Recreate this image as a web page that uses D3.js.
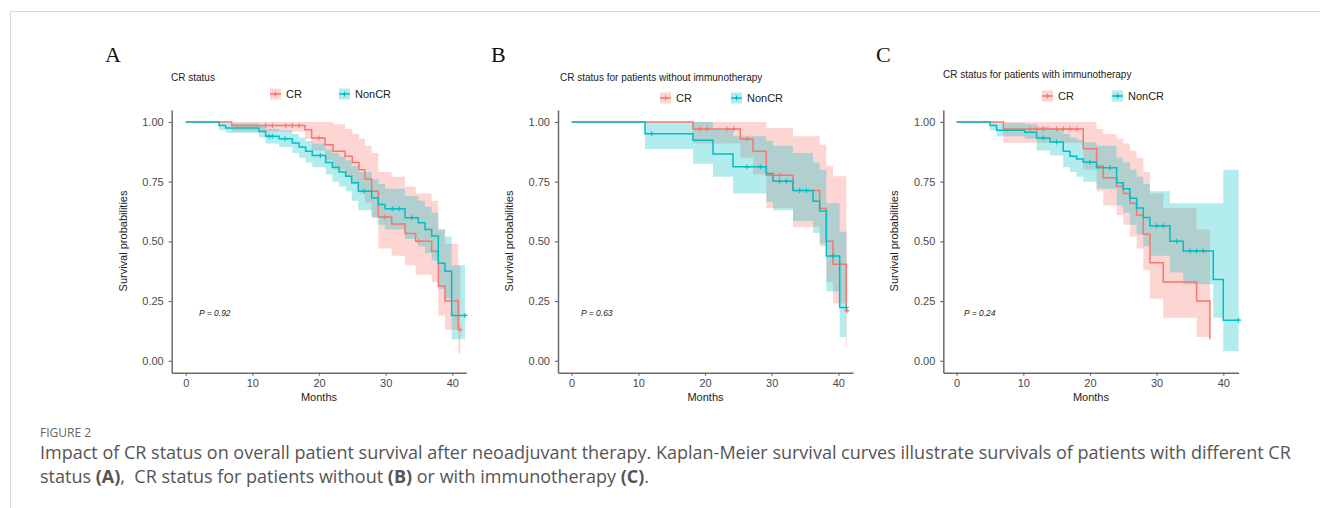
<!DOCTYPE html>
<html>
<head>
<meta charset="utf-8">
<script src="https://cdn.jsdelivr.net/npm/d3@7"></script>
<style>
  body { margin: 0; background: #fff; }
  text { font-family: Arial, "Liberation Sans", sans-serif; }
</style>
</head>
<body>
<script>
// ---- data (months, survival probability) ----

// A: CR status
var aCrTime = [0, 6.9, 17.9, 18.9, 20.9, 22.1, 23.9, 25, 26, 26.9, 27.9, 28.9, 30.9, 32.9, 34.5, 36.9, 37.9, 38.9, 40.9];
var aCrSurv = [1, .985, .967, .933, .905, .877, .856, .83, .80, .761, .71, .602, .573, .533, .50, .459, .313, .25, .13];
var aCrLow  = [1, .96, .93, .88, .84, .80, .77, .74, .70, .66, .60, .47, .44, .40, .36, .33, .19, .13, .03];
var aCrUp   = [1, 1, 1, 1, 1, .99, .97, .95, .93, .90, .87, .79, .77, .73, .70, .67, .55, .49, .40];
var aCrCens = [12, 13, 15, 16, 17, 20, 29.9, 34.9, 41.2];

var aNcTime = [0, 5, 6, 11, 12, 14, 16, 17, 18, 19, 21, 22, 23, 24, 24.9, 25.9, 27.9, 28.9, 29.9, 32.9, 34.9, 35.9, 36.9, 37.9, 38.9, 39.9];
var aNcSurv = [1, .985, .975, .96, .94, .93, .912, .895, .877, .86, .83, .81, .79, .773, .745, .71, .682, .654, .636, .599, .578, .55, .522, .408, .375, .19];
var aNcLow  = [1, .965, .955, .935, .91, .895, .87, .85, .83, .81, .78, .75, .73, .71, .67, .63, .60, .57, .55, .51, .48, .45, .42, .30, .26, .09];
var aNcUp   = [1, 1, .995, .985, .97, .965, .95, .935, .92, .91, .885, .87, .855, .84, .815, .79, .76, .74, .72, .69, .67, .645, .62, .55, .52, .40];
var aNcCens = [12.5, 13, 14.9, 20.2, 26.8, 31, 32, 33.9, 41.9];

// B: without immunotherapy
var bCrTime = [0, 18.2, 25.3, 27.2, 29.2, 33.2, 37.2, 38.2, 39.2, 41.2];
var bCrSurv = [1, .970, .929, .877, .777, .713, .638, .50, .404, .209];
var bCrLow  = [1, .91, .85, .78, .64, .56, .48, .33, .24, .06];
var bCrUp   = [1, 1, 1, 1, .975, .94, .905, .815, .773, .55];
var bCrCens = [19.3, 20.3, 23.3, 24.3, 26.3, 30.2, 31.2, 41.3];

var bNcTime = [0, 11, 18.2, 21.2, 24.2, 29.2, 30.2, 33.2, 36.2, 37.2, 38.2, 40.2];
var bNcSurv = [1, .951, .923, .866, .812, .784, .752, .713, .668, .627, .439, .223];
var bNcLow  = [1, .887, .825, .77, .70, .665, .63, .585, .535, .49, .29, .10];
var bNcUp   = [1, 1, 1, .97, .94, .92, .90, .87, .83, .80, .66, .54];
var bNcCens = [12, 26.3, 28.3, 31.2, 32.2, 34.2, 35.2, 39.2, 41.2];

// C: with immunotherapy
var cCrTime = [0, 7, 19, 21, 22, 24, 25, 26, 27, 28, 29, 31, 36, 38];
var cCrSurv = [1, .97, .888, .815, .766, .731, .70, .66, .61, .53, .41, .33, .25, .09];
var cCrLow  = [1, .913, .80, .71, .65, .61, .57, .52, .47, .38, .26, .18, .10, .01];
var cCrUp   = [1, 1, 1, .97, .95, .93, .91, .88, .85, .79, .70, .64, .55, .45];
var cCrCens = [11, 12, 13, 15, 16, 17, 18];

var cNcTime = [0, 5, 6, 10.2, 12, 14, 16, 17, 18, 19, 21, 24, 25, 26, 27, 28, 29, 32, 34, 38.5, 40];
var cNcSurv = [1, .985, .965, .957, .933, .916, .877, .856, .845, .831, .808, .745, .72, .68, .64, .60, .565, .50, .46, .34, .17];
var cNcLow  = [1, .965, .94, .93, .88, .86, .81, .79, .77, .75, .72, .65, .62, .57, .53, .48, .44, .37, .32, .18, .04];
var cNcUp   = [1, 1, .995, .99, .98, .97, .95, .935, .925, .915, .90, .85, .83, .80, .77, .74, .71, .66, .66, .66, .80];
var cNcCens = [13, 15, 20, 23, 30, 31, 33, 35, 36, 37, 42.3];

var groups   = ['CR', 'NonCR'];
var colors   = ['#F8766D', '#00BFC4'];
var yTicks   = [0, 0.25, 0.5, 0.75, 1];
var xTicks   = [0, 10, 20, 30, 40];

var panels = [
  { letter: 'A', title: 'CR status', pval: 'P = 0.92',
    x0: 171.7, x1: 466.3, dom: [-2.1, 42.1], lx: 105, tx: 171, ty: 81, legY: 94, legX: [270, 339], px: 2,
    series: [[aCrTime, aCrSurv, aCrLow, aCrUp, aCrCens], [aNcTime, aNcSurv, aNcLow, aNcUp, aNcCens]] },
  { letter: 'B', title: 'CR status for patients without immunotherapy', pval: 'P = 0.63',
    x0: 558, x1: 853, dom: [-2.05, 42.2], lx: 491, tx: 560, ty: 81, legY: 98, legX: [660, 731], px: 1.4,
    series: [[bCrTime, bCrSurv, bCrLow, bCrUp, bCrCens], [bNcTime, bNcSurv, bNcLow, bNcUp, bNcCens]] },
  { letter: 'C', title: 'CR status for patients with immunotherapy', pval: 'P = 0.24',
    x0: 943.3, x1: 1238.6, dom: [-2.0, 42.3], lx: 876, tx: 943, ty: 78, legY: 96, legX: [1042, 1112], px: 1.1,
    series: [[cCrTime, cCrSurv, cCrLow, cCrUp, cCrCens], [cNcTime, cNcSurv, cNcLow, cNcUp, cNcCens]] }
];

var svg = d3.select('body').append('svg')
  .attr('width', 1320).attr('height', 508);

// frame of the figure box
svg.append('path').attr('d', 'M10.5,508V11.5H1320')
  .attr('fill', 'none').attr('stroke', '#d6d6d6').attr('stroke-width', 1);

var y = d3.scaleLinear().domain([-0.05, 1.05]).range([372.7, 110]);
var plus = 'M-2.5,0H2.5M0,-2.5V2.5';

function stepAt(times, vals, t) {
  var i = d3.bisectRight(times, t) - 1;
  return vals[Math.max(i, 0)];
}

panels.forEach(function(p) {
  var g = svg.append('g');
  var x = d3.scaleLinear().domain(p.dom).range([p.x0, p.x1]);

  g.append('text').attr('x', p.lx).attr('y', 62)
    .style('font-family', '"Liberation Serif", "Times New Roman", serif')
    .style('font-size', '22px').attr('fill', '#111').text(p.letter);
  g.append('text').attr('x', p.tx).attr('y', p.ty)
    .style('font-size', '10px').attr('fill', '#222').text(p.title);

  var rows = p.series.map(function(s) {
    var r = s[0].map(function(t, i) { return { t: t, s: s[1][i], lo: s[2][i], hi: s[3][i] }; });
    var end = Math.max(d3.max(s[0]), d3.max(s[4]));
    var last = r[r.length - 1];
    if (end > last.t) r.push({ t: end, s: last.s, lo: last.lo, hi: last.hi });
    return r;
  });

  var area = d3.area().curve(d3.curveStepAfter)
    .x(function(d) { return x(d.t); })
    .y0(function(d) { return y(d.lo); })
    .y1(function(d) { return y(d.hi); });
  var line = d3.line().curve(d3.curveStepAfter)
    .x(function(d) { return x(d.t); })
    .y(function(d) { return y(d.s); });

  rows.forEach(function(r, k) {
    g.append('path').attr('d', area(r)).attr('fill', colors[k]).attr('fill-opacity', 0.3);
  });
  rows.forEach(function(r, k) {
    g.append('path').attr('d', line(r)).attr('fill', 'none')
      .attr('stroke', colors[k]).attr('stroke-width', 1.5);
  });
  p.series.forEach(function(s, k) {
    g.selectAll(null).data(s[4]).enter().append('path')
      .attr('d', plus).attr('fill', 'none').attr('stroke', colors[k]).attr('stroke-width', 1.1)
      .attr('transform', function(c) { return 'translate(' + x(c) + ',' + y(stepAt(s[0], s[1], c)) + ')'; });
  });

  // axes
  var ya = g.append('g').attr('transform', 'translate(' + p.x0 + ',0)')
    .call(d3.axisLeft(y).tickValues(yTicks).tickFormat(d3.format('.2f')).tickSize(3).tickSizeOuter(0).tickPadding(5));
  var xa = g.append('g').attr('transform', 'translate(0,372.7)')
    .call(d3.axisBottom(x).tickValues(xTicks).tickSize(3).tickSizeOuter(0).tickPadding(3.5));
  [ya, xa].forEach(function(a) {
    a.select('.domain').attr('stroke', '#6b6b6b').attr('stroke-width', 1.5);
    a.selectAll('.tick line').attr('stroke', '#6b6b6b').attr('stroke-width', 1.2);
    a.selectAll('.tick text').style('font-size', '11px').attr('fill', '#4a4a4a')
      .style('font-family', 'Arial, "Liberation Sans", sans-serif');
  });

  g.append('text').attr('transform', 'translate(' + (p.x0 - 45) + ',241) rotate(-90)')
    .attr('text-anchor', 'middle').style('font-size', '11px').attr('fill', '#222')
    .text('Survival probabilities');
  g.append('text').attr('x', (p.x0 + p.x1) / 2).attr('y', 401)
    .attr('text-anchor', 'middle').style('font-size', '11px').attr('fill', '#222').text('Months');
  g.append('text').attr('x', x(p.px)).attr('y', y(0.2) + 3)
    .style('font-size', '8.5px').style('font-style', 'italic').attr('fill', '#222').text(p.pval);

  // legend
  groups.forEach(function(name, k) {
    var lg = g.append('g').attr('transform', 'translate(' + p.legX[k] + ',' + p.legY + ')');
    lg.append('rect').attr('x', 0).attr('y', -5.5).attr('width', 11).attr('height', 11)
      .attr('fill', colors[k]).attr('fill-opacity', 0.3);
    lg.append('path').attr('d', 'M0,0H11').attr('stroke', colors[k]).attr('stroke-width', 1.5);
    lg.append('path').attr('d', plus).attr('transform', 'translate(5.5,0)')
      .attr('fill', 'none').attr('stroke', colors[k]).attr('stroke-width', 1.1);
    lg.append('text').attr('x', 16).attr('y', 4).style('font-size', '11px').attr('fill', '#222').text(name);
  });
});

// caption
var cap = svg.append('g');
cap.append('text').attr('x', 40).attr('y', 437).style('font-family', '"Open Sans", sans-serif')
  .style('font-size', '12px').attr('fill', '#666').text('FIGURE 2');
var l1 = cap.append('text').attr('x', 40).attr('y', 459).style('font-size', '18px').attr('fill', '#555')
  .style('font-family', '"Open Sans", sans-serif');
l1.text('Impact of CR status on overall patient survival after neoadjuvant therapy. Kaplan-Meier survival curves illustrate survivals of patients with different CR');
var l2 = cap.append('text').attr('x', 40).attr('y', 483).style('font-size', '18px').attr('fill', '#555')
  .style('font-family', '"Open Sans", sans-serif');
[['status ', false], ['(A)', true], [',  CR status for patients without ', false], ['(B)', true],
 [' or with immunotherapy ', false], ['(C)', true], ['.', false]].forEach(function(s) {
  l2.append('tspan').attr('font-weight', s[1] ? 'bold' : null).style('white-space', 'pre').text(s[0]);
});
</script>
</body>
</html>
